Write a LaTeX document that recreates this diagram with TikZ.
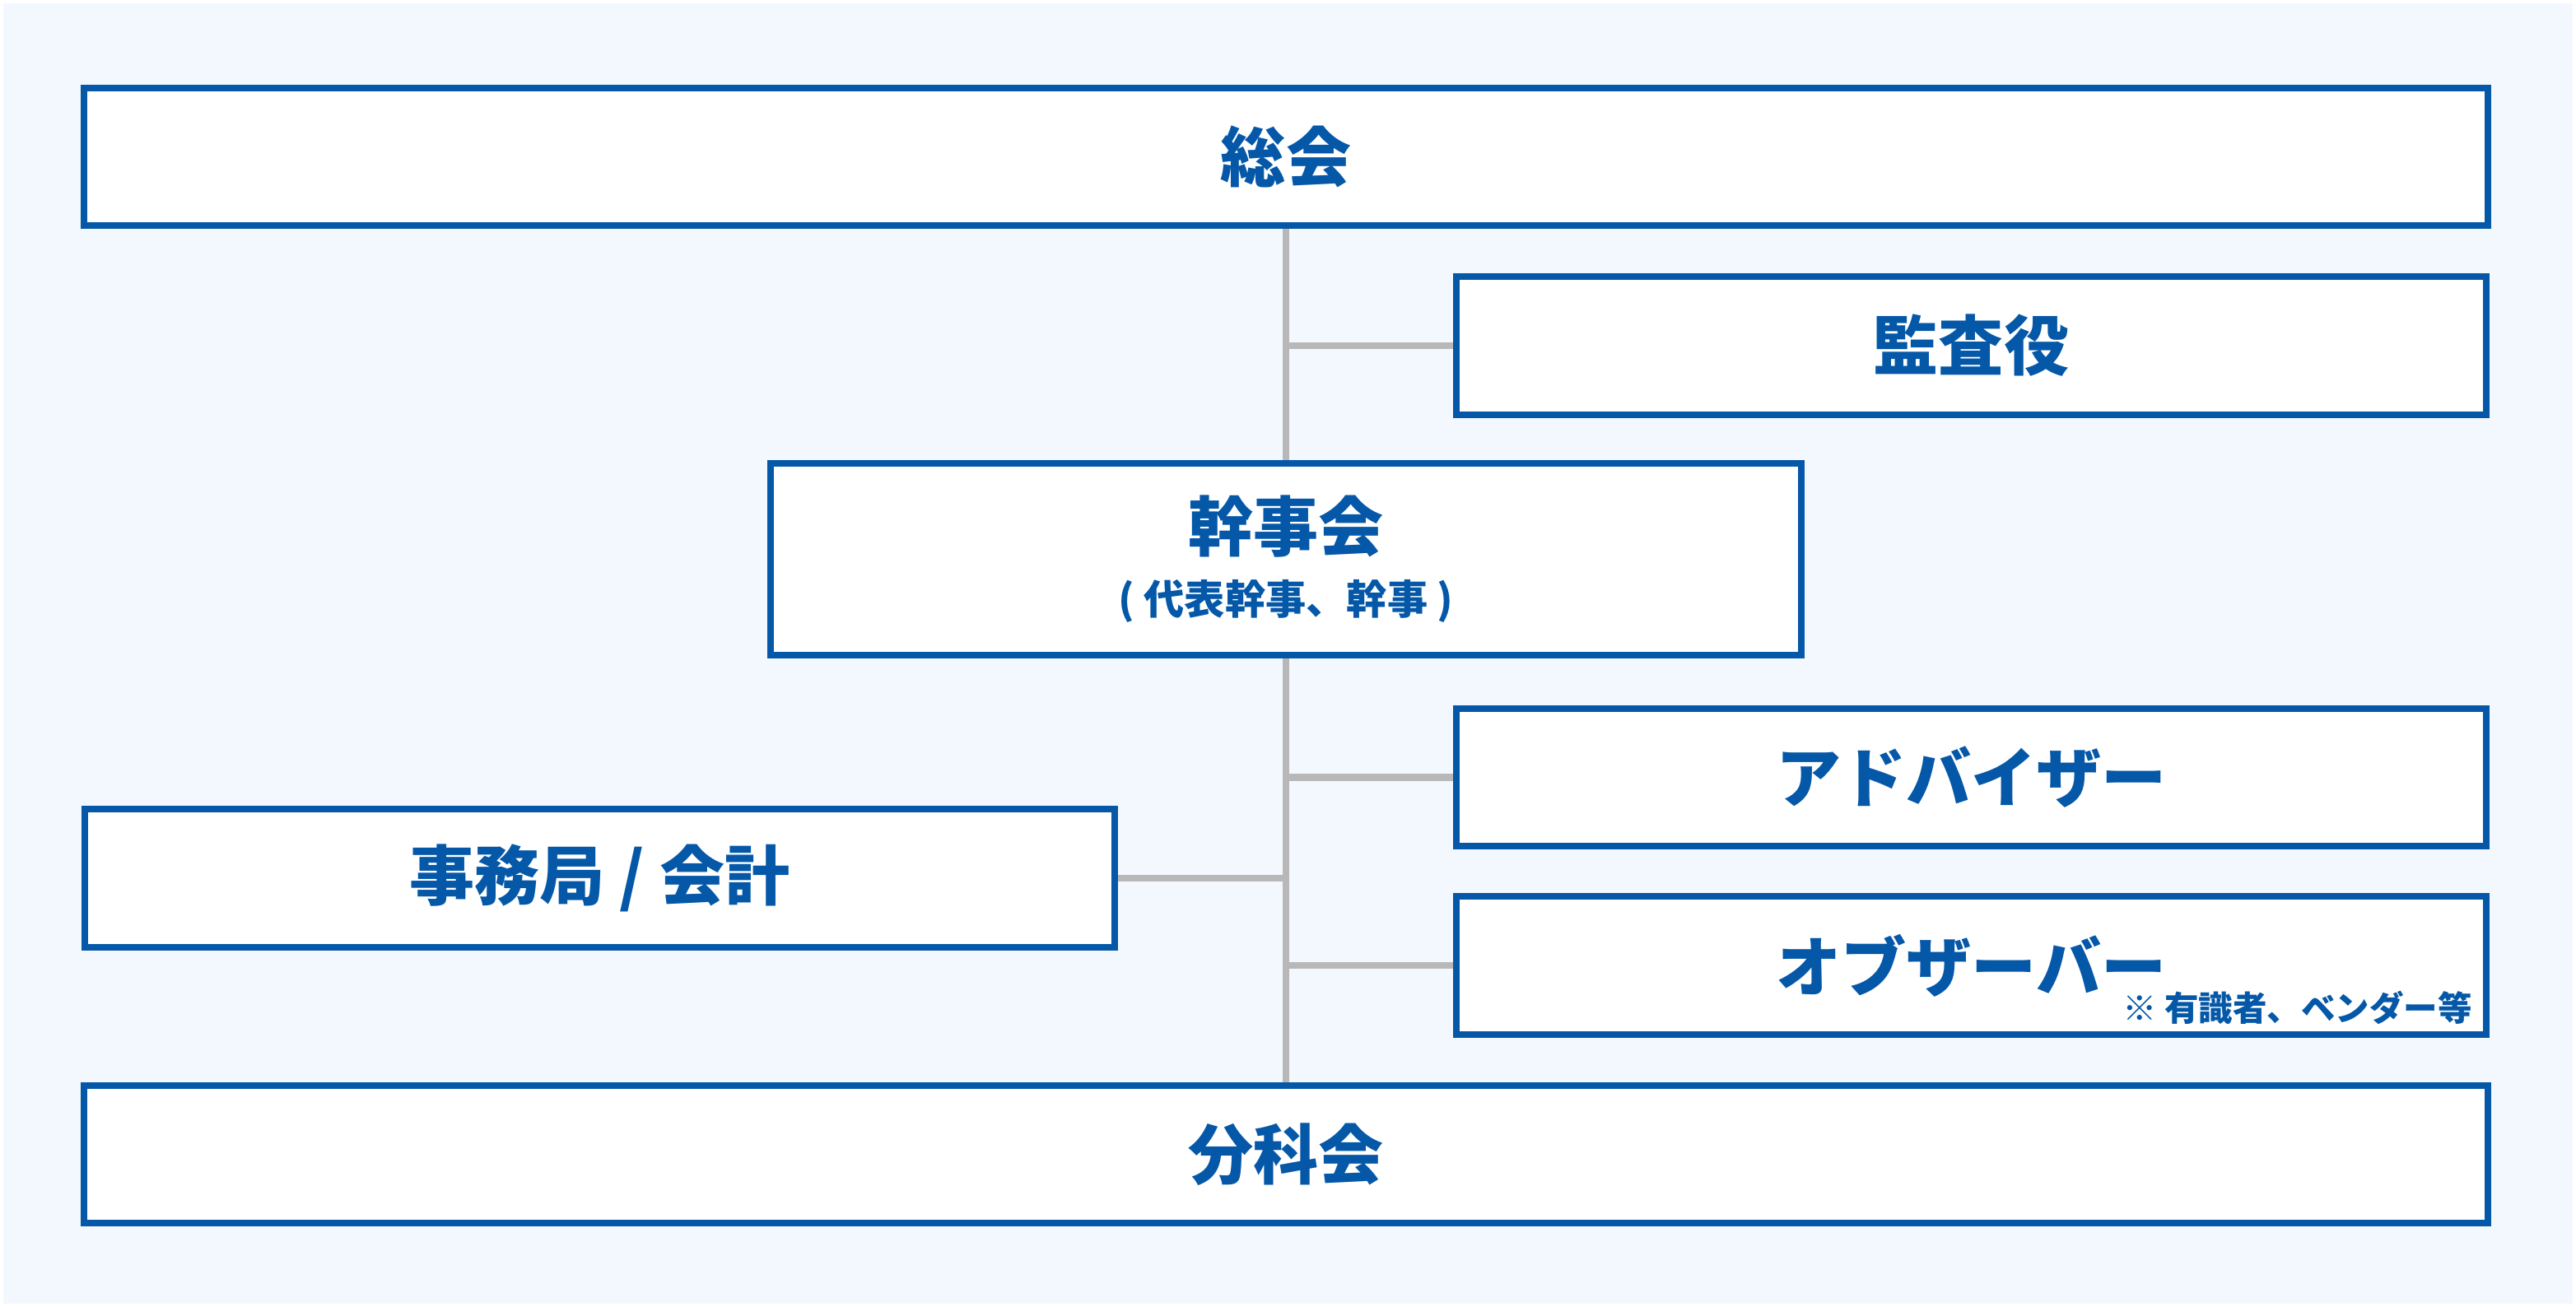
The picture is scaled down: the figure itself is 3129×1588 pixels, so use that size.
\documentclass[tikz,border=0pt]{standalone}
\usepackage{fontspec}
\usepackage{xcolor}
\usepackage{tikz}
\newfontfamily\jpfont{Noto Sans CJK JP}
\definecolor{orgblue}{HTML}{0558A8}
\definecolor{linkgray}{HTML}{B8B8B8}
\definecolor{paper}{HTML}{F3F8FE}
\tikzset{
    organ/.style={draw=orgblue, fill=white, line width=2.28pt, text=orgblue, inner sep=0pt,
        font=\jpfont\bfseries\fontsize{22.5}{27}\selectfont},
    link/.style={draw=linkgray, line width=2.28pt},
    remark/.style={text=orgblue, inner sep=0pt, font=\jpfont\bfseries\fontsize{11.8}{13}\selectfont}}
\usetikzlibrary{calc}

\begin{document}
\begin{tikzpicture}[x=0.01cm, y=-0.01cm]
    \path[fill=white] (0,0) rectangle (3129,1588);
    \path[fill=paper] (4,4) rectangle (3125,1584);
    \node[organ, minimum width=29.18cm, minimum height=1.67cm] (sokai) at (1562, 190.5) {総会};
    \node[organ, minimum width=12.51cm, minimum height=1.67cm] (kansa) at (2394.5, 420) {監査役};
    \node[organ, minimum width=12.52cm, minimum height=2.33cm, align=center] (kanji) at (1562, 679.5)
        {幹事会\\[-5pt]{\fontsize{14}{16}\selectfont ( 代表幹事、幹事 )}};
    \node[organ, minimum width=12.51cm, minimum height=1.67cm] (adviser) at (2394.5, 944.5) {アドバイザー};
    \node[organ, minimum width=12.51cm, minimum height=1.67cm] (jimu) at (728.5, 1067) {事務局 / 会計};
    \node[organ, minimum width=12.51cm, minimum height=1.67cm] (observer) at (2394.5, 1173) {オブザーバー};
    \node[organ, minimum width=29.18cm, minimum height=1.67cm] (bunka) at (1562, 1402.5) {分科会};
    \node[remark, anchor=base east] (obsnote) at ($(observer.south east)+(-21,-20)$) {※ 有識者、ベンダー等};
    \draw[link] (sokai) -- (kanji);
    \draw[link] (kanji) -- (bunka);
    \draw[link] (kansa.west) -- (kansa.west -| sokai.south);
    \draw[link] (adviser.west) -- (adviser.west -| sokai.south);
    \draw[link] (observer.west) -- (observer.west -| sokai.south);
    \draw[link] (jimu.east) -- (jimu.east -| sokai.south);
\end{tikzpicture}
\end{document}
